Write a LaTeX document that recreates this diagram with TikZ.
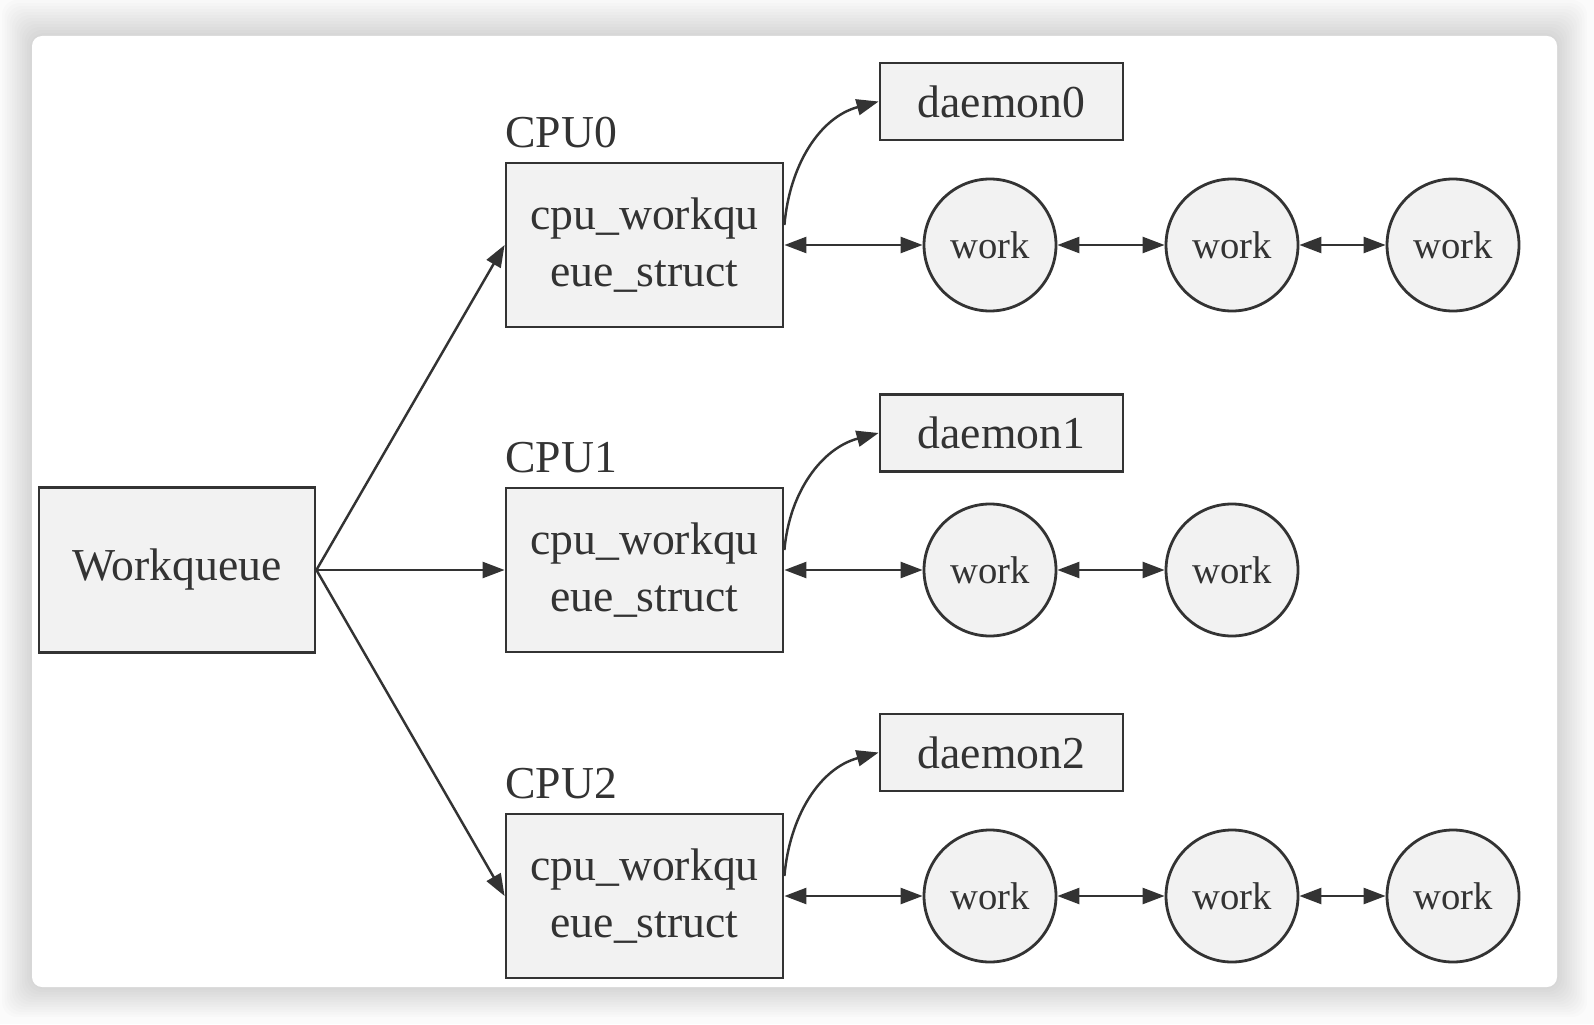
\documentclass[tikz,border=0pt]{standalone}
\usepackage{fontspec}
\setmainfont{Liberation Serif}
\usetikzlibrary{arrows.meta}
\definecolor{boxfill}{HTML}{F2F2F2}
\definecolor{ink}{HTML}{333333}
\tikzset{
  box/.style={draw=ink,fill=boxfill,line width=0.8pt,text=ink,inner sep=0pt,
    font=\fontsize{13}{16}\selectfont,align=center},
  workbox/.style={circle,draw=ink,fill=boxfill,line width=0.8pt,text=ink,inner sep=0pt,
    minimum size=1.32cm,font=\fontsize{11}{13}\selectfont},
  cpulabel/.style={anchor=base west,inner sep=0pt,text=ink,font=\fontsize{13}{16}\selectfont},
  link/.style={draw=ink,line width=0.7pt,-{Triangle[length=0.22cm,width=0.16cm]}},
  dlink/.style={draw=ink,line width=0.7pt,{Triangle[length=0.22cm,width=0.16cm]}-{Triangle[length=0.22cm,width=0.16cm]}}
}
\begin{document}
\begin{tikzpicture}
\useasboundingbox (0,0) rectangle (15.94,10.24);
\fill[gray!3] (0,0) rectangle (15.94,10.24);
\foreach \i in {1,...,12}
  \fill[black,opacity=0.013,rounded corners=0.15cm] ({0.32-0.025*\i},{0.37-0.025*\i}) rectangle ({15.57+0.025*\i},{9.88+0.03*\i});
\fill[white,rounded corners=0.1cm] (0.32,0.37) rectangle (15.57,9.88);

\node[box,minimum width=2.76cm,minimum height=1.65cm] (wq) at (1.77,4.54) {Workqueue};

\foreach \n/\y/\d in {0/7.79/9.225,1/4.54/5.91,2/1.28/2.715}{
  \node[box,minimum width=2.77cm,minimum height=1.64cm] (cpu\n) at (6.445,\y) {cpu\_workqu\\eue\_struct};
  \node[cpulabel] (lab\n) at ([yshift=0.14cm]cpu\n.north west) {CPU\n};
  \node[box,minimum width=2.43cm,minimum height=0.77cm] (dmn\n) at (10.015,\d) {daemon\n};
  \node[workbox] (w\n a) at (9.90,\y) {work};
  \node[workbox] (w\n b) at (12.32,\y) {work};
  \draw[link] (wq.east) -- (cpu\n.west);
  \draw[link] ([yshift=0.2cm]cpu\n.east) to[out=85,in=195] (dmn\n.west);
  \draw[dlink] (cpu\n.east) -- (w\n a.west);
  \draw[dlink] (w\n a.east) -- (w\n b.west);
}
\node[workbox] (w0c) at (14.53,7.79) {work};
\node[workbox] (w2c) at (14.53,1.28) {work};
\draw[dlink] (w0b.east) -- (w0c.west);
\draw[dlink] (w2b.east) -- (w2c.west);
\end{tikzpicture}
\end{document}
